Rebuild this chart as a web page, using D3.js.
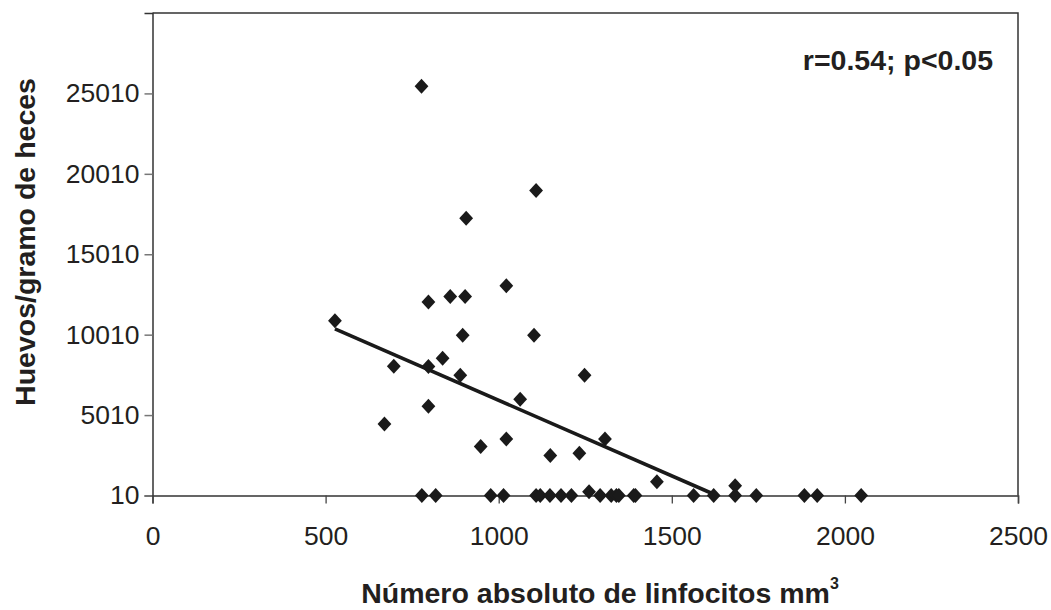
<!DOCTYPE html>
<html>
<head>
<meta charset="utf-8">
<script src="https://cdn.jsdelivr.net/npm/d3@7"></script>
<style>
  html, body { margin: 0; padding: 0; background: #fff; }
  svg { display: block; }
  text { font-family: "Liberation Sans", Arial, Helvetica, sans-serif; fill: #231f20; }
</style>
</head>
<body>
<svg id="chart" width="1051" height="610"></svg>
<script>
// ---- data ----
const linfocitos = [527, 777, 1108, 906, 797, 860, 903, 1022, 896, 1102, 838, 797, 697, 889, 1248, 1062, 797, 670, 948, 1022, 1149, 1233, 1307, 1457, 1683, 1261,
  778, 818, 977, 1014, 1108, 1120, 1148, 1180, 1210, 1293, 1325, 1340, 1347, 1390, 1395, 1563, 1621, 1683, 1744, 1883, 1920, 2047];
const huevos = [10870, 25460, 18980, 17250, 12040, 12380, 12380, 13050, 9970, 9980, 8550, 8030, 8040, 7490, 7490, 5990, 5560, 4460, 3050, 3530, 2490, 2640, 3530, 870, 620, 250,
  10, 10, 10, 10, 10, 10, 10, 10, 10, 10, 10, 10, 10, 10, 10, 10, 10, 10, 10, 10, 10, 10];
const trendX = [527, 1615];
const trendY = [10370, 150];
const xTicks = [0, 500, 1000, 1500, 2000, 2500];
const yTicks = [10, 5010, 10010, 15010, 20010, 25010];
const xDomain = [0, 2500];
const yDomain = [10, 30010];
const annotation = "r=0.54; p<0.05";
const xTitle = "Número absoluto de linfocitos mm";
const xTitleSup = "3";
const yTitle = "Huevos/gramo de heces";

// ---- layout ----
const mLeft = 152.5, mRight = 1018, mTop = 13, mBottom = 495.5;
const svg = d3.select("#chart");
const x = d3.scaleLinear().domain(xDomain).range([mLeft, mRight]);
const y = d3.scaleLinear().domain(yDomain).range([mBottom, mTop]);

const tickFont = 26.5, boldFont = 28.5;

// frame (top and right)
svg.append("path")
  .attr("d", `M${mLeft},${mTop}H${mRight}V${mBottom}`)
  .attr("fill", "none").attr("stroke", "#333").attr("stroke-width", 1.5);

// y axis
const gy = svg.append("g").attr("transform", `translate(${mLeft},0)`)
  .call(d3.axisLeft(y).tickValues(yTicks).tickSize(8).tickPadding(5).tickFormat(d3.format("d")));
gy.select(".domain").attr("stroke", "#333").attr("stroke-width", 1.5);
gy.selectAll(".tick line").attr("stroke", "#777").attr("stroke-width", 1.5);
gy.selectAll(".tick text").attr("font-size", tickFont).attr("fill", "#231f20")
  .style("font-family", '"Liberation Sans", Arial, sans-serif');

// x axis
const gx = svg.append("g").attr("transform", `translate(0,${mBottom})`)
  .call(d3.axisBottom(x).tickValues(xTicks).tickSize(8).tickPadding(23).tickFormat(d3.format("d")));
gx.select(".domain").attr("stroke", "#333").attr("stroke-width", 1.5);
gx.selectAll(".tick line").attr("stroke", "#444").attr("stroke-width", 1.3);
gx.selectAll(".tick text").attr("font-size", tickFont).attr("fill", "#231f20")
  .style("font-family", '"Liberation Sans", Arial, sans-serif');

// trend line
const pts = trendX.map((d, i) => [d, trendY[i]]);
svg.append("path")
  .attr("d", d3.line().x(d => x(d[0])).y(d => y(d[1]))(pts))
  .attr("fill", "none").attr("stroke", "#1a1a1a").attr("stroke-width", 3.6);

// diamonds
const hw = 6.9, hh = 7.5;
svg.append("g").selectAll("path").data(linfocitos.map((d, i) => [d, huevos[i]]))
  .join("path")
  .attr("d", d => {
    const cx = x(d[0]), cy = y(d[1]);
    return `M${cx},${cy - hh}L${cx + hw},${cy}L${cx},${cy + hh}L${cx - hw},${cy}Z`;
  })
  .attr("fill", "#1a1a1a");

// annotation
svg.append("text").attr("x", 993).attr("y", 70).attr("text-anchor", "end")
  .attr("font-size", boldFont).attr("font-weight", "bold").text(annotation);

// x title
const xt = svg.append("text").attr("x", 600).attr("y", 603).attr("text-anchor", "middle")
  .attr("font-size", boldFont).attr("font-weight", "bold");
xt.append("tspan").text(xTitle);
xt.append("tspan").attr("font-size", 16).attr("dy", -14).text(xTitleSup);

// y title
svg.append("text").attr("transform", `translate(35,242) rotate(-90)`)
  .attr("text-anchor", "middle").attr("font-size", boldFont).attr("font-weight", "bold")
  .text(yTitle);
</script>
</body>
</html>
